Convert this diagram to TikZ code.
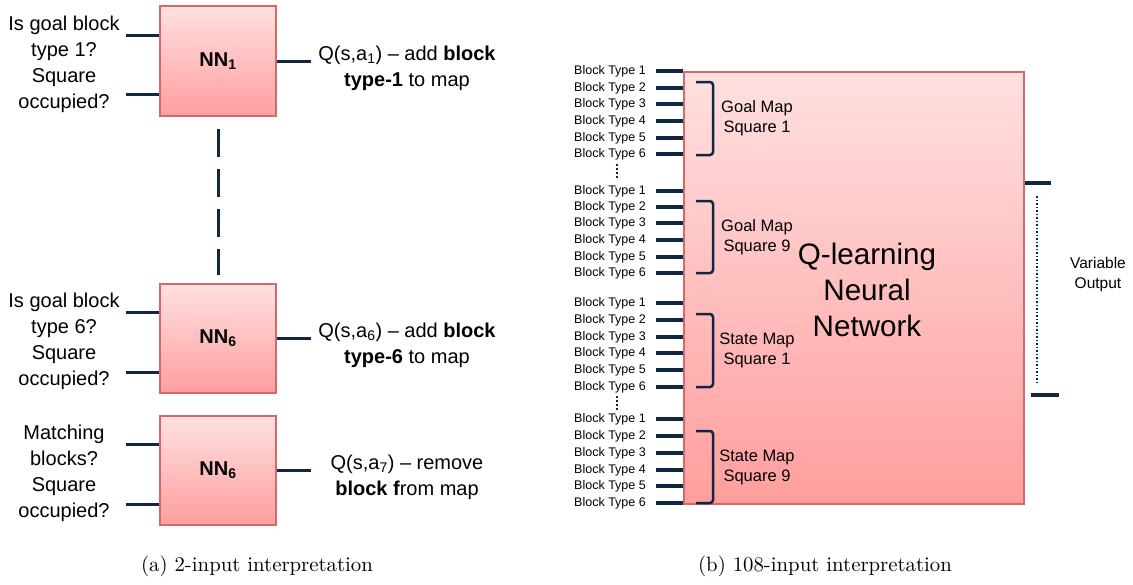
\documentclass[tikz,border=0pt]{standalone}
\usepackage{fontspec}
\newfontfamily\arial{Liberation Sans}
\definecolor{pktop}{HTML}{FFE0E0}
\definecolor{pkbot}{HTML}{FF9E9E}
\definecolor{pkline}{HTML}{D26A6A}
\definecolor{navy}{HTML}{0E2841}
\tikzset{
  nnbox/.style={draw=pkline, line width=1.5pt, top color=pktop, bottom color=pkbot, inner sep=0pt, minimum width=116pt, minimum height=109pt, font=\arial\bfseries\fontsize{20}{24}\selectfont},
  stub/.style={draw=navy, line width=3pt},
  bstub/.style={draw=navy, line width=4pt},
  qtext/.style={align=center, inner sep=0pt, font=\arial\fontsize{20}{26}\selectfont},
  btext/.style={anchor=east, inner sep=0pt, font=\arial\fontsize{12.5}{14}\selectfont},
  grplabel/.style={align=center, inner sep=0pt, font=\arial\fontsize{16.5}{20}\selectfont},
  brk/.style={draw=navy, line width=2.5pt, rounded corners=3pt},
  vdot/.style={draw=navy, line width=1.8pt, dash pattern=on 1.5pt off 2.5pt},
  captxt/.style={inner sep=0pt}
}
\begin{document}
\begin{tikzpicture}[x=1pt,y=-1pt]
\useasboundingbox (0,0) rectangle (1133,584);
% ---------- (a) ----------
\node[nnbox, minimum height=110pt] (nn1) at (218,61) {NN\textsubscript{1}};
\node[nnbox] (nn2) at (218,338.5) {NN\textsubscript{6}};
\node[nnbox] (nn3) at (218,470.5) {NN\textsubscript{6}};

\node[qtext] (in1) at (64,64.5) {Is goal block\\type 1?\\Square\\occupied?};
\node[qtext] (in2) at (64,341) {Is goal block\\type 6?\\Square\\occupied?};
\node[qtext] (in3) at (64,473) {Matching\\blocks?\\Square\\occupied?};

\draw[stub] (nn1.west |- 0,35) -- (126,35);
\draw[stub] (nn1.west |- 0,94) -- (126,94);
\draw[stub] (nn2.west |- 0,312) -- (126,312);
\draw[stub] (nn2.west |- 0,372) -- (126,372);
\draw[stub] (nn3.west |- 0,444) -- (126,444);
\draw[stub] (nn3.west |- 0,504) -- (126,504);

\draw[stub] (nn1.east) -- ++(34,0) coordinate (o1);
\draw[stub] (nn2.east) -- ++(34,0) coordinate (o2);
\draw[stub] (nn3.east) -- ++(34,0) coordinate (o3);

\node[qtext] (out1) at (407,68.5) {Q(s,a\textsubscript{1}) – add \textbf{block}\\\textbf{type-1} to map};
\node[qtext] (out2) at (407,345) {Q(s,a\textsubscript{6}) – add \textbf{block}\\\textbf{type-6} to map};
\node[qtext] (out3) at (407,477) {Q(s,a\textsubscript{7}) – remove\\\textbf{block f}rom map};

\draw[stub, dash pattern=on 28pt off 12pt] ([yshift=-12pt]nn1.south) -- ([yshift=8pt]nn2.north);

\node[captxt] (capa) at (257,566) {\scalebox{2.08}{(a) 2-input interpretation}};

% ---------- (b) ----------
\node[draw=pkline, line width=1.5pt, top color=pktop, bottom color=pkbot, inner sep=0pt, minimum width=340pt, minimum height=432pt] (big) at (854,288) {};
\node[align=center, inner sep=0pt, font=\arial\fontsize{29.6}{36}\selectfont] (ql) at (867,290) {Q-learning\\Neural\\Network};

\foreach \y [count=\i] in {71,88,104,121,138,154} {
  \draw[bstub] (big.west |- 0,\y) -- (656,\y);
  \node[btext] at (646,\y) {Block Type \i};
}
\foreach \y [count=\i] in {191,207,223,240,257,273} {
  \draw[bstub] (big.west |- 0,\y) -- (656,\y);
  \node[btext] at (646,\y) {Block Type \i};
}
\foreach \y [count=\i] in {303,320,337,353,370,387} {
  \draw[bstub] (big.west |- 0,\y) -- (656,\y);
  \node[btext] at (646,\y) {Block Type \i};
}
\foreach \y [count=\i] in {419,436,453,470,486,503} {
  \draw[bstub] (big.west |- 0,\y) -- (656,\y);
  \node[btext] at (646,\y) {Block Type \i};
}
\draw[vdot] (617,164) -- (617,179);
\draw[vdot] (617,396) -- (617,411);

\draw[brk] (696,82) -- (713,82) -- (713,155) -- (696,155);
\draw[brk] (696,201) -- (713,201) -- (713,273) -- (696,273);
\draw[brk] (696,314) -- (713,314) -- (713,387) -- (696,387);
\draw[brk] (696,431) -- (713,431) -- (713,503) -- (696,503);

\node[grplabel] (g1) at (757,118) {Goal Map\\Square 1};
\node[grplabel] (g9) at (757,237) {Goal Map\\Square 9};
\node[grplabel] (s1) at (757,350) {State Map\\Square 1};
\node[grplabel] (s9) at (757,467) {State Map\\Square 9};

\draw[bstub] (big.east |- 0,183) -- (1051,183);
\draw[bstub] (1031,395) -- (1059,395);
\draw[draw=navy, line width=1.8pt, dash pattern=on 1.5pt off 2pt] (1037,196) -- (1037,382);
\node[align=center, inner sep=0pt, font=\arial\fontsize{15.5}{20}\selectfont] (vo) at (1098,274) {Variable\\Output};

\node[captxt] (capb) at (825,566) {\scalebox{2.08}{(b) 108-input interpretation}};
\end{tikzpicture}
\end{document}
